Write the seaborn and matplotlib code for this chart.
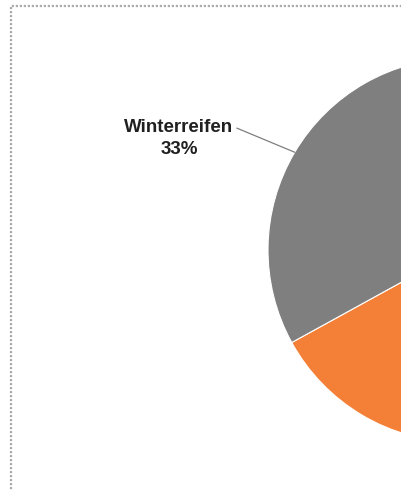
import numpy as np
import matplotlib
matplotlib.use("Agg")
import matplotlib.pyplot as plt
from matplotlib.patches import Rectangle
import seaborn as sns

# Tyre sales share by tyre type (clockwise from 12 o'clock)
categories = ["Sommerreifen", "Ganzjahresreifen", "Winterreifen"]
shares = [50, 17, 33]
colors = ["#4472C4", "#F47F36", "#7F7F7F"]

sns.set_theme(style="white")
plt.rcParams["font.family"] = ["Liberation Sans", "DejaVu Sans"]

W, H = 401, 491
fig = plt.figure(figsize=(W / 100, H / 100), dpi=100)
ax = fig.add_axes([0, 0, 1, 1])

# pie placed in pixel-like data coordinates (origin bottom-left)
cx, cy, r = 460, H - 250, 192
wedges, _ = ax.pie(
    shares,
    colors=colors,
    startangle=90,
    counterclock=False,
    center=(cx, cy),
    radius=r,
    wedgeprops=dict(edgecolor="white", linewidth=0.8),
    frame=True,
)

# chart area border (dotted)
ax.add_patch(Rectangle((10.5, -400), 1000, H - 6 - (-400), fill=False,
                       edgecolor="#ABABAB", linewidth=1.6, linestyle=(0, (1, 0.8))))

# data label with leader line for the Winterreifen slice
idx = categories.index("Winterreifen")
w = wedges[idx]
mid = np.deg2rad((w.theta1 + w.theta2) / 2)
edge = (cx + r * np.cos(mid), cy + r * np.sin(mid))
label_x, label_y = 179, H - 138.5
ax.annotate(f"{categories[idx]}\n{shares[idx]}%",
            xy=edge, xytext=(label_x, label_y),
            ha="center", va="center", multialignment="center",
            fontsize=13.5, fontweight="bold", color="#202020",
            linespacing=1.4,
            arrowprops=dict(arrowstyle="-", color="#7F7F7F", linewidth=0.9,
                            shrinkA=0, shrinkB=0,
                            relpos=(1.0, 0.8)))

ax.set_xlim(0, W)
ax.set_ylim(0, H)
ax.set_aspect("equal")
ax.axis("off")

fig.savefig("out.png", dpi=100, facecolor="white")
